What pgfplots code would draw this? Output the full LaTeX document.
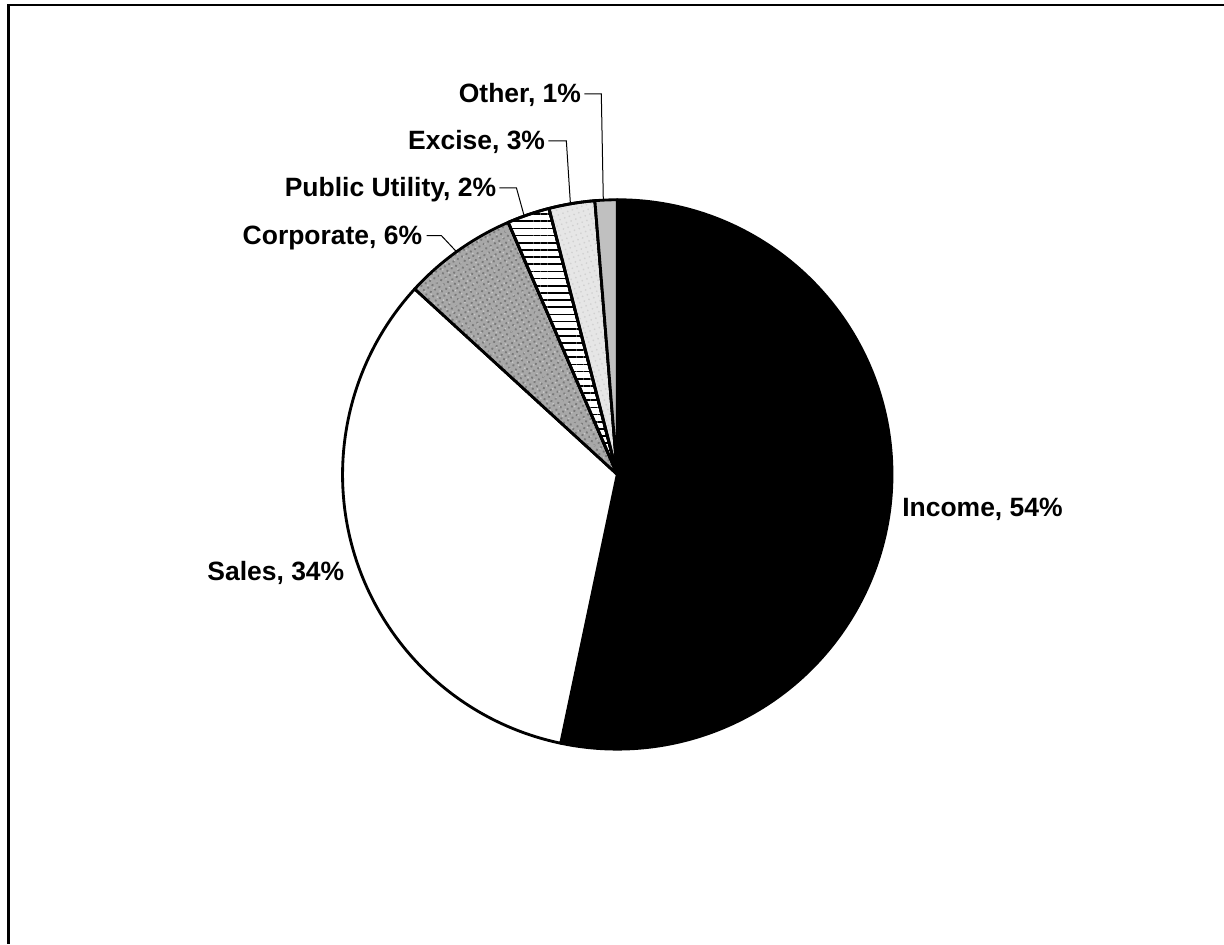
\documentclass[border=0pt]{standalone}
\usepackage{pgfplots}
\pgfplotsset{compat=1.18}
\usepackage{pgfplotstable}
\usetikzlibrary{patterns.meta}
\usepackage{fontspec}
\setmainfont{Liberation Sans}

\pgfplotstableread{
label value
Income 53.3
Sales 33.5
Corporate 6.7
PublicUtility 2.5
Excise 2.7
Other 1.3
}\piedata

\definecolor{corpgray}{HTML}{A8A8A8}
\definecolor{excgray}{HTML}{E6E6E6}
\definecolor{othgray}{HTML}{C0C0C0}

\begin{document}
\begin{tikzpicture}
% cumulative angles (clockwise from 12 o'clock)
\pgfmathsetmacro\cum{0}
\pgfmathsetmacro\aS{90}
\pgfplotstablegetelem{0}{value}\of\piedata
\pgfmathsetmacro\cum{\cum+\pgfplotsretval}\pgfmathsetmacro\aA{90-3.6*\cum}
\pgfplotstablegetelem{1}{value}\of\piedata
\pgfmathsetmacro\cum{\cum+\pgfplotsretval}\pgfmathsetmacro\aB{90-3.6*\cum}
\pgfplotstablegetelem{2}{value}\of\piedata
\pgfmathsetmacro\cum{\cum+\pgfplotsretval}\pgfmathsetmacro\aC{90-3.6*\cum}
\pgfplotstablegetelem{3}{value}\of\piedata
\pgfmathsetmacro\cum{\cum+\pgfplotsretval}\pgfmathsetmacro\aD{90-3.6*\cum}
\pgfplotstablegetelem{4}{value}\of\piedata
\pgfmathsetmacro\cum{\cum+\pgfplotsretval}\pgfmathsetmacro\aE{90-3.6*\cum}
\pgfmathsetmacro\aF{-270}
\begin{axis}[
  scale only axis,
  width=734.4pt, height=566.4pt,
  xmin=0, xmax=1224, ymin=0, ymax=944,
  y dir=reverse,
  axis lines=none,
  clip=false,
]
\path (axis cs:0,0) rectangle (axis cs:1224,944);
% frame (top and left edges visible)
\draw[line width=1.7pt, line cap=rect] (axis cs:8.5,944) -- (axis cs:8.5,5) -- (axis cs:1224,5);

\def\R{165pt}
\tikzset{slice/.style={draw=black, line width=1.7pt, line join=round}}
% Income
\filldraw[slice, fill=black] (axis cs:618,475) -- ++(\aS:\R) arc[start angle=\aS, end angle=\aA, radius=\R] -- cycle;
% Sales
\filldraw[slice, fill=white] (axis cs:618,475) -- ++(\aA:\R) arc[start angle=\aA, end angle=\aB, radius=\R] -- cycle;
% Corporate
\fill[fill=corpgray] (axis cs:618,475) -- ++(\aB:\R) arc[start angle=\aB, end angle=\aC, radius=\R] -- cycle;
\fill[pattern={Dots[distance=3pt, radius=0.8pt, angle=30]}, pattern color=gray!30!black, opacity=0.35] (axis cs:618,475) -- ++(\aB:\R) arc[start angle=\aB, end angle=\aC, radius=\R] -- cycle;
\fill[pattern={Dots[distance=4.1pt, radius=0.6pt, angle=65]}, pattern color=white, opacity=0.35] (axis cs:618,475) -- ++(\aB:\R) arc[start angle=\aB, end angle=\aC, radius=\R] -- cycle;
\draw[slice] (axis cs:618,475) -- ++(\aB:\R) arc[start angle=\aB, end angle=\aC, radius=\R] -- cycle;
% Public Utility
\filldraw[slice, fill=white] (axis cs:618,475) -- ++(\aC:\R) arc[start angle=\aC, end angle=\aD, radius=\R] -- cycle;
\fill[pattern={Lines[angle=0, distance=4.3pt, line width=1.0pt]}, pattern color=black] (axis cs:618,475) -- ++(\aC:\R) arc[start angle=\aC, end angle=\aD, radius=\R] -- cycle;
\draw[slice] (axis cs:618,475) -- ++(\aC:\R) arc[start angle=\aC, end angle=\aD, radius=\R] -- cycle;
% Excise
\filldraw[slice, fill=excgray] (axis cs:618,475) -- ++(\aD:\R) arc[start angle=\aD, end angle=\aE, radius=\R] -- cycle;
\fill[pattern={Dots[distance=3pt, radius=0.6pt, angle=20]}, pattern color=gray, opacity=0.2] (axis cs:618,475) -- ++(\aD:\R) arc[start angle=\aD, end angle=\aE, radius=\R] -- cycle;
\draw[slice] (axis cs:618,475) -- ++(\aD:\R) arc[start angle=\aD, end angle=\aE, radius=\R] -- cycle;
% Other
\filldraw[slice, fill=othgray] (axis cs:618,475) -- ++(\aE:\R) arc[start angle=\aE, end angle=\aF, radius=\R] -- cycle;

% leader lines
\draw[line width=0.6pt] (axis cs:427,236) -- (axis cs:442,236) -- (axis cs:457,252);
\draw[line width=0.6pt] (axis cs:500,188) -- (axis cs:517,188) -- (axis cs:525,217);
\draw[line width=0.6pt] (axis cs:549,141) -- (axis cs:567,141) -- (axis cs:571,203);
\draw[line width=0.6pt] (axis cs:585,94) -- (axis cs:602,94) -- (axis cs:604,200);

% labels
\tikzset{lab/.style={inner sep=0pt, font=\bfseries\fontsize{15.9}{19}\selectfont}}
\node[lab, anchor=base west] at (axis cs:903,517.5) {Income, 54\%};
\node[lab, anchor=base east] at (axis cs:345,581) {Sales, 34\%};
\node[lab, anchor=base east] at (axis cs:423,245) {Corporate, 6\%};
\node[lab, anchor=base east] at (axis cs:497,197) {Public Utility, 2\%};
\node[lab, anchor=base east] at (axis cs:546,150) {Excise, 3\%};
\node[lab, anchor=base east] at (axis cs:582,103) {Other, 1\%};
\end{axis}
\end{tikzpicture}
\end{document}
